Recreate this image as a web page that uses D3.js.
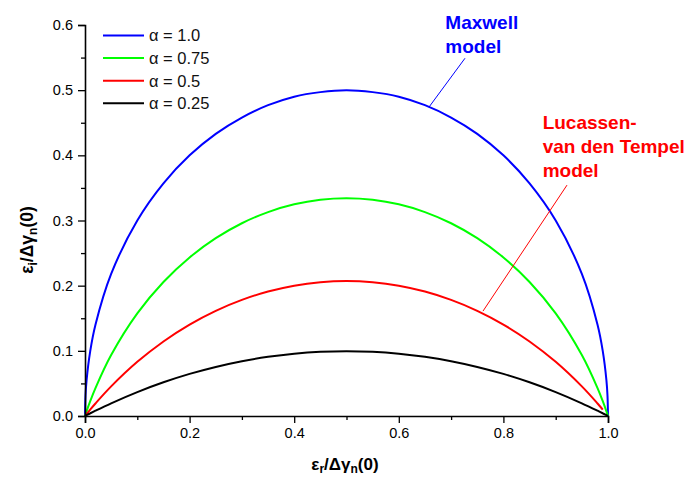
<!DOCTYPE html>
<html>
<head>
<meta charset="utf-8">
<script src="https://cdn.jsdelivr.net/npm/d3@7"></script>
<style>
    body { margin: 0; background: #fff; }
    svg { display: block; font-family: "Liberation Sans", Arial, sans-serif; }
</style>
</head>
<body>
<div id="cole_cole_plot"></div>
<script>
// real part of the normalised modulus (shared by all curves)
const epsR = [0, 0.001, 0.003, 0.01, 0.02, 0.05, 0.1, 0.15, 0.2, 0.25, 0.3, 0.35, 0.4, 0.45, 0.5,
              0.55, 0.6, 0.65, 0.7, 0.75, 0.8, 0.85, 0.9, 0.95, 0.98, 0.99, 0.997, 0.999, 1.0];

// imaginary part for each alpha
const epsI_100 = [0, 0.0316, 0.0547, 0.0995, 0.14, 0.218, 0.3, 0.357, 0.4, 0.433, 0.458, 0.477, 0.49, 0.497, 0.5,
                  0.497, 0.49, 0.477, 0.458, 0.433, 0.4, 0.357, 0.3, 0.218, 0.14, 0.0995, 0.0547, 0.0316, 0];
const epsI_075 = [0, 0.0024, 0.0072, 0.0227, 0.0429, 0.0936, 0.1575, 0.2057, 0.2433, 0.2729, 0.2958, 0.3129, 0.3248, 0.3318, 0.3341,
                  0.3318, 0.3248, 0.3129, 0.2958, 0.2729, 0.2433, 0.2057, 0.1575, 0.0936, 0.0429, 0.0227, 0.0072, 0.0024, 0];
const epsI_050 = [0, 0.001, 0.003, 0.0098, 0.0192, 0.0454, 0.0831, 0.1144, 0.1403, 0.1614, 0.1782, 0.191, 0.2, 0.2053, 0.2071,
                  0.2053, 0.2, 0.191, 0.1782, 0.1614, 0.1403, 0.1144, 0.0831, 0.0454, 0.0192, 0.0098, null, null, null];
const epsI_025 = [0, 0.0004, 0.0012, 0.0041, 0.0081, 0.0195, 0.0367, 0.0517, 0.0646, 0.0753, 0.0841, 0.0908, 0.0956, 0.0985, 0.0995,
                  0.0985, 0.0956, 0.0908, 0.0841, 0.0753, 0.0646, 0.0517, 0.0367, 0.0195, 0.0081, 0.0041, 0.0012, 0.0004, 0];

const seriesLabels = ["α = 1.0", "α = 0.75", "α = 0.5", "α = 0.25"];
const seriesColors = ["#0000ff", "#00ff00", "#ff0000", "#000000"];
const seriesValues = [epsI_100, epsI_075, epsI_050, epsI_025];

const xTicks = [0, 0.2, 0.4, 0.6, 0.8, 1.0];
const xMinorTicks = [0.1, 0.3, 0.5, 0.7, 0.9];
const yTicks = [0, 0.1, 0.2, 0.3, 0.4, 0.5, 0.6];
const yMinorTicks = [0.05, 0.15, 0.25, 0.35, 0.45, 0.55];

// pointer lines: [x1, y1, x2, y2] in data units
const maxwellPointer = [0.7266, 0.549, 0.6577, 0.474];
const lvdtPointer = [0.9216, 0.3543, 0.761, 0.161];

const W = 689, H = 478;
const margin = { top: 25, right: 81, bottom: 62, left: 85 };
const width = W - margin.left - margin.right;
const height = H - margin.top - margin.bottom;

const x = d3.scaleLinear().domain([0, 1]).range([0, width]);
const y = d3.scaleLinear().domain([0, 0.6]).range([height, 0]);

const svg = d3.select("#cole_cole_plot")
    .append("svg")
    .attr("width", W)
    .attr("height", H);

const g = svg.append("g")
    .attr("transform", `translate(${margin.left}, ${margin.top})`);

// curves
const line = d3.line()
    .defined(d => d[1] != null)
    .x(d => x(d[0]))
    .y(d => y(d[1]))
    .curve(d3.curveCatmullRom.alpha(0.5));

seriesValues.forEach((vals, i) => {
    const pts = epsR.map((r, k) => [r, vals[k]]);
    g.append("path")
        .datum(pts)
        .attr("fill", "none")
        .attr("stroke", seriesColors[i])
        .attr("stroke-width", 2)
        .attr("d", line);
});

// axes
g.append("g")
    .attr("transform", `translate(0, ${height})`)
    .call(d3.axisBottom(x).tickValues(xTicks).tickSize(7).tickPadding(5).tickFormat(d3.format(".1f")));
g.append("g")
    .attr("transform", `translate(0, ${height})`)
    .call(d3.axisBottom(x).tickValues(xMinorTicks).tickSize(4).tickFormat(""))
    .select(".domain").remove();

g.append("g")
    .call(d3.axisLeft(y).tickValues(yTicks).tickSize(7).tickPadding(5).tickFormat(d3.format(".1f")));
g.append("g")
    .call(d3.axisLeft(y).tickValues(yMinorTicks).tickSize(4).tickFormat(""))
    .select(".domain").remove();

g.selectAll(".domain").attr("stroke", "#000").attr("stroke-width", 1.6);
g.selectAll(".tick line").attr("stroke", "#000").attr("stroke-width", 1.3);
g.selectAll(".tick text")
    .attr("fill", "#000")
    .style("font-size", "14.5px")
    .style("font-family", "'Liberation Sans', Arial, sans-serif");

// axis titles
const xTitle = svg.append("text")
    .attr("x", 345)
    .attr("y", 470)
    .attr("text-anchor", "middle")
    .style("font-size", "17px")
    .style("font-weight", "bold");
xTitle.append("tspan").text("ε");
xTitle.append("tspan").attr("dy", 3).style("font-size", "12px").text("r");
xTitle.append("tspan").attr("dy", -3).text("/Δγ");
xTitle.append("tspan").attr("dy", 3).style("font-size", "12px").text("n");
xTitle.append("tspan").attr("dy", -3).text("(0)");

const yTitle = svg.append("text")
    .attr("transform", "translate(33, 240) rotate(-90)")
    .attr("text-anchor", "middle")
    .style("font-size", "17.5px")
    .style("font-weight", "bold");
yTitle.append("tspan").text("ε");
yTitle.append("tspan").attr("dy", 4).style("font-size", "12px").text("i");
yTitle.append("tspan").attr("dy", -4).text("/Δγ");
yTitle.append("tspan").attr("dy", 4).style("font-size", "12px").text("n");
yTitle.append("tspan").attr("dy", -4).text("(0)");

// legend
const legend = g.append("g").attr("transform", "translate(18, 10.5)");
seriesLabels.forEach((label, i) => {
    const row = legend.append("g").attr("transform", `translate(0, ${i * 22.6})`);
    row.append("line")
        .attr("x1", 0).attr("x2", 41)
        .attr("stroke", seriesColors[i])
        .attr("stroke-width", 2);
    row.append("text")
        .attr("x", 46)
        .attr("dy", "0.36em")
        .style("font-size", "16.5px")
        .attr("fill", "#111")
        .text(label);
});

// annotations
g.append("line")
    .attr("x1", x(maxwellPointer[0])).attr("y1", y(maxwellPointer[1]))
    .attr("x2", x(maxwellPointer[2])).attr("y2", y(maxwellPointer[3]))
    .attr("stroke", "#0000ff")
    .attr("stroke-width", 1);

g.append("line")
    .attr("x1", x(lvdtPointer[0])).attr("y1", y(lvdtPointer[1]))
    .attr("x2", x(lvdtPointer[2])).attr("y2", y(lvdtPointer[3]))
    .attr("stroke", "#ff0000")
    .attr("stroke-width", 1);

const maxwellText = g.append("text")
    .attr("x", x(0.689))
    .attr("y", y(0.5945))
    .attr("fill", "#0000ff")
    .style("font-size", "19px")
    .style("font-weight", "bold");
["Maxwell", "model"].forEach((t, i) => {
    maxwellText.append("tspan").attr("x", x(0.689)).attr("dy", i === 0 ? 0 : 24).text(t);
});

const lvdtText = g.append("text")
    .attr("x", x(0.875))
    .attr("y", y(0.441))
    .attr("fill", "#ff0000")
    .style("font-size", "19px")
    .style("font-weight", "bold");
["Lucassen-", "van den Tempel", "model"].forEach((t, i) => {
    lvdtText.append("tspan").attr("x", x(0.875)).attr("dy", i === 0 ? 0 : 24.4).text(t);
});
</script>
</body>
</html>
